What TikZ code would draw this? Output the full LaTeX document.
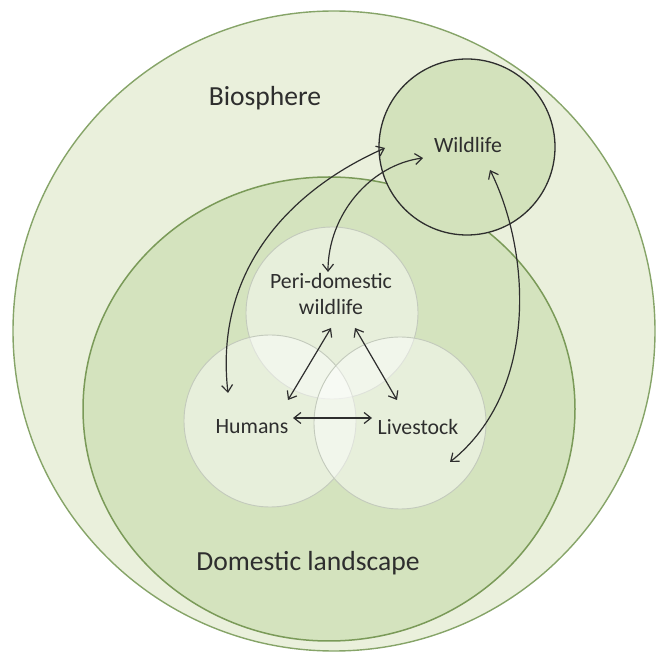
\documentclass[tikz,border=0pt]{standalone}
\usepackage{fontspec}
\setmainfont{Carlito}
\usetikzlibrary{arrows.meta, shapes.geometric}
\definecolor{bioFill}{HTML}{EAF0DC}
\definecolor{bioLine}{HTML}{86A468}
\definecolor{domFill}{HTML}{D4E3BE}
\definecolor{domLine}{HTML}{7A9A58}
\definecolor{wildFill}{HTML}{D3E2BC}
\definecolor{ringLine}{HTML}{C3CABC}
\definecolor{inkGray}{HTML}{2E2E2E}

\begin{document}
\begin{tikzpicture}[x=1pt,y=-1pt,
    ring/.style={circle, inner sep=0pt, minimum size=172pt, draw=ringLine,
        line width=0.9pt, fill=white, fill opacity=0.45, draw opacity=1},
    biglbl/.style={text=inkGray, font=\fontsize{27.6}{33}\selectfont},
    lbl/.style={text=inkGray, align=center, font=\fontsize{21.8}{26.5}\selectfont},
    link/.style={draw=inkGray, line width=1.2pt,
        {Straight Barb[length=7pt,width=11pt]}-{Straight Barb[length=7pt,width=11pt]}}]
    \useasboundingbox (0,0) rectangle (657,652);

    % the two landscapes
    \node[ellipse, draw=bioLine, line width=1.4pt, fill=bioFill, inner sep=0pt,
        minimum width=642pt, minimum height=640pt] (bio) at (334,331) {};
    \node[ellipse, draw=domLine, line width=1.5pt, fill=domFill, inner sep=0pt,
        minimum width=492pt, minimum height=464pt] (dom) at (329,409) {};

    % wildlife
    \node[circle, draw=inkGray, line width=1.3pt, fill=wildFill, inner sep=0pt,
        minimum size=176pt] (wild) at (467,147) {};

    % the three hosts
    \node[ring] (peri) at (332,313) {};
    \node[ring] (hum) at (270,421) {};
    \node[ring] (live) at (400,423) {};

    % texts
    \node[biglbl] (biotext) at (265,98) {Biosphere};
    \node[biglbl] (domtext) at (308,563) {Domestic landscape};
    \node[lbl] (wildtext) at (468,145) {Wildlife};
    \node[lbl] (peritext) at (331,294) {Peri-domestic\\wildlife};
    \node[lbl] (humtext) at (252,427) {Humans};
    \node[lbl] (livetext) at (418,427) {Livestock};

    % arrow ends
    \coordinate (W1) at (385,148);
    \coordinate (W2) at (423,158);
    \coordinate (W3) at (490,170);
    \coordinate (H1) at (228,393);
    \coordinate (H2) at (288,400);
    \coordinate (H3) at (293,418);
    \coordinate (P1) at (328,272);
    \coordinate (P2) at (331,328);
    \coordinate (P3) at (355,328);
    \coordinate (L1) at (397,400);
    \coordinate (L2) at (372,418);
    \coordinate (L3) at (450,462);

    \draw[link] (H1) .. controls (214,270) and (290,190) .. (W1);
    \draw[link] (P1) .. controls (328,215) and (370,165) .. (W2);
    \draw[link] (W3) .. controls (530,250) and (540,390) .. (L3);

    \foreach \a/\b in {P2/H2, P3/L1, H3/L2}{
        \draw[link] (\a) -- (\b);
    }
\end{tikzpicture}
\end{document}
